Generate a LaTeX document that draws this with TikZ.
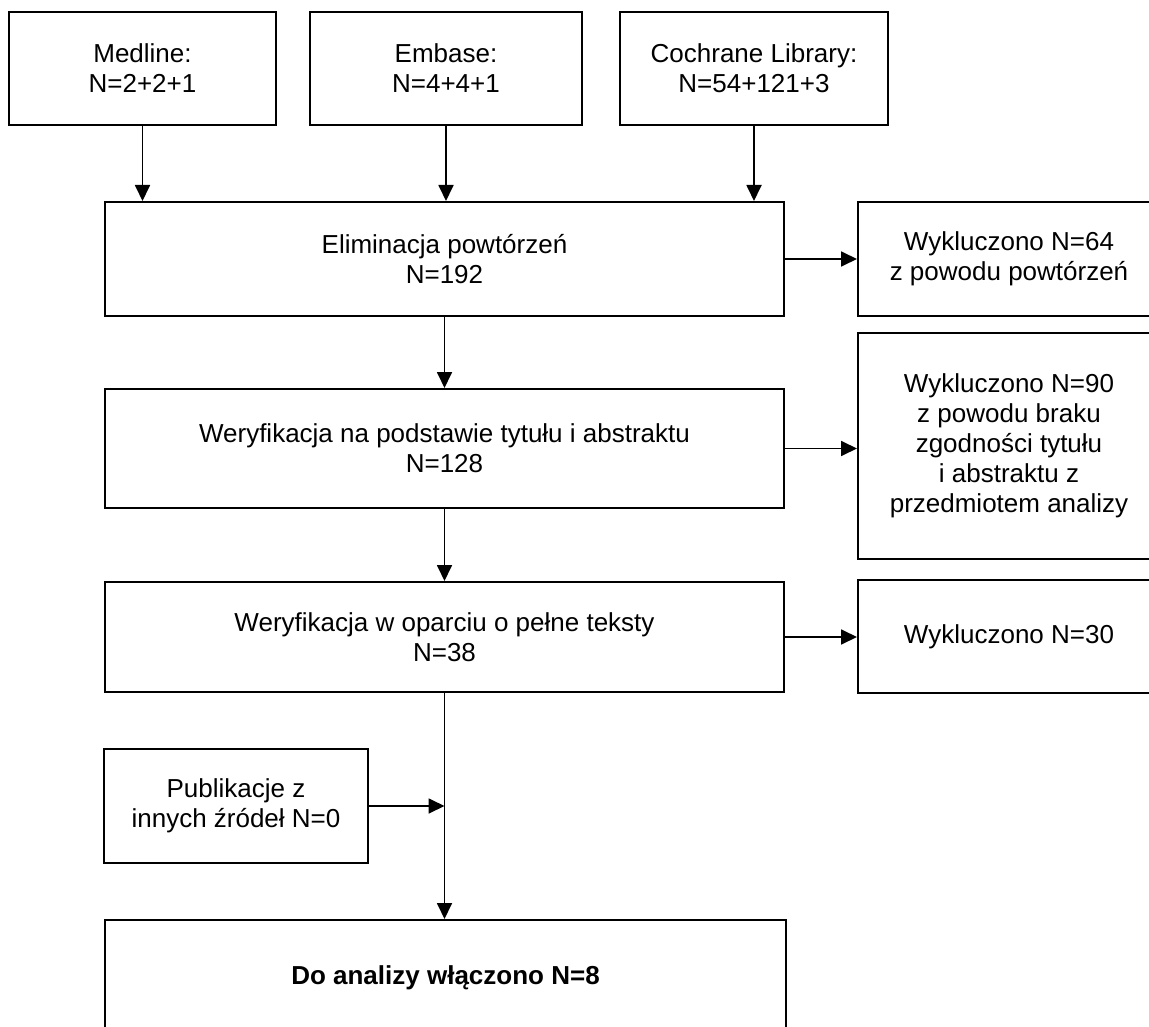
\documentclass[tikz,border=0pt]{standalone}
\usepackage{fontspec}
\setmainfont{Liberation Sans}
\usetikzlibrary{arrows.meta}
\begin{document}
\begin{tikzpicture}[x=1pt,y=-1pt,
  box/.style={draw=black, line width=2pt, rectangle, inner sep=0pt, align=center,
    font=\fontsize{26}{30}\selectfont},
  conn/.style={line width=1.8pt, -{Triangle[length=16pt,width=15pt]}}]
\useasboundingbox (0,0) rectangle (1149,1027);
\clip (0,0) rectangle (1149,1027);
\fill[white] (0,0) rectangle (1149,1027);
% top sources
\node[box, minimum width=267pt, minimum height=113pt] (med) at (142.5,68.5) {Medline:\\N=2+2+1};
\node[box, minimum width=272pt, minimum height=113pt] (emb) at (446,68.5) {Embase:\\N=4+4+1};
\node[box, minimum width=268pt, minimum height=113pt] (coch) at (754,68.5) {Cochrane Library:\\N=54+121+3};
% main column
\node[box, minimum width=679pt, minimum height=114pt] (elim) at (444.5,259) {Eliminacja powtórzeń\\N=192};
\node[box, minimum width=679pt, minimum height=119pt] (wer1) at (444.5,448.5) {Weryfikacja na podstawie tytułu i abstraktu\\N=128};
\node[box, minimum width=679pt, minimum height=110pt] (wer2) at (444.5,637) {Weryfikacja w oparciu o pełne teksty\\N=38};
\node[box, minimum width=264pt, minimum height=114pt] (pub) at (236,806) {Publikacje z\\innych źródeł N=0};
\node[box, minimum width=681pt, minimum height=116pt] (fin) at (445.5,978) {\bfseries Do analizy włączono N=8};
% exclusions
\node[box, minimum width=302pt, minimum height=114pt] (ex1) at (1009,259) {Wykluczono N=64\\z powodu powtórzeń};
\node[box, minimum width=302pt, minimum height=226pt] (ex2) at (1009,446) {Wykluczono N=90\\z powodu braku\\zgodności tytułu\\i abstraktu z\\przedmiotem analizy};
\node[box, minimum width=302pt, minimum height=113pt] (ex3) at (1009,636.5) {Wykluczono N=30};
% connectors
\draw[conn] (med.south) -- (med.south |- elim.north);
\draw[conn] (emb.south) -- (emb.south |- elim.north);
\draw[conn] (coch.south) -- (coch.south |- elim.north);
\draw[conn] (elim.south) -- (wer1.north);
\draw[conn] (wer1.south) -- (wer2.north);
\draw[conn] (wer2.south) -- (wer2.south |- fin.north);
\draw[conn] (pub.east) -- (pub.east -| wer2.south);
\draw[conn] (elim.east) -- (elim.east -| ex1.west);
\draw[conn] (wer1.east) -- (wer1.east -| ex2.west);
\draw[conn] (wer2.east) -- (wer2.east -| ex3.west);
\end{tikzpicture}
\end{document}
